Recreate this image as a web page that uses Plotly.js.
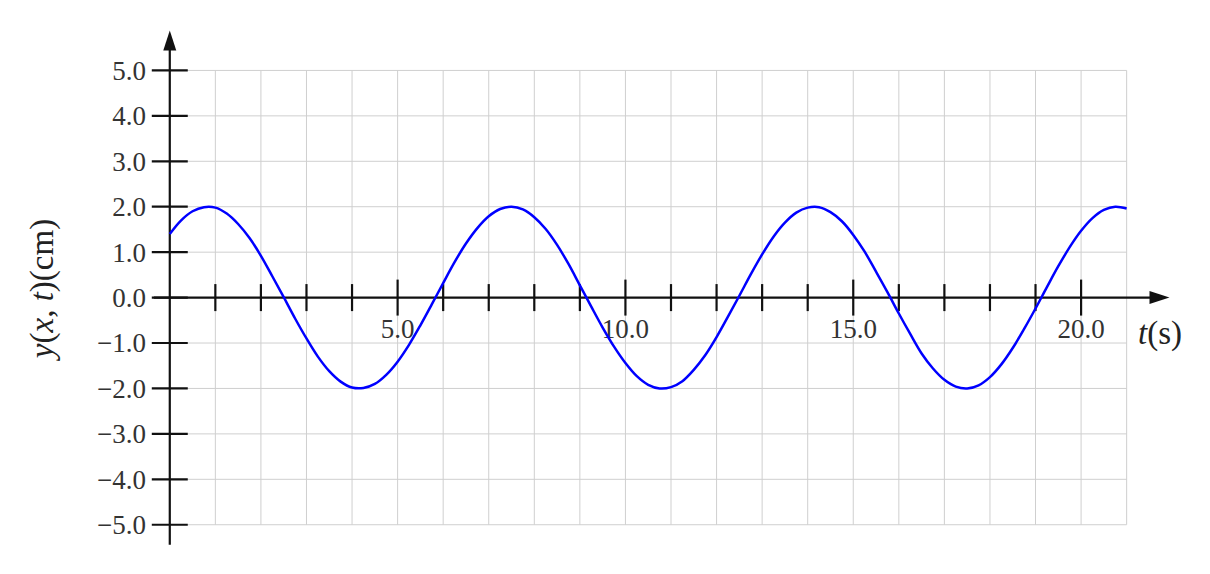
<!DOCTYPE html>
<html>
<head>
<meta charset="utf-8">
<script src="https://cdn.plot.ly/plotly-3.0.1.min.js"></script>
<style>
  html, body { margin: 0; padding: 0; background: #fff; }
  #chart { width: 1210px; height: 574px; }
</style>
</head>
<body>
<div id="chart"></div>
<script>
const tVals = [0, 0.25, 0.5, 0.75, 1, 1.25, 1.5, 1.75, 2, 2.25, 2.5, 2.75, 3, 3.25, 3.5, 3.75, 4, 4.25, 4.5, 4.75,
               5, 5.25, 5.5, 5.75, 6, 6.25, 6.5, 6.75, 7, 7.25, 7.5, 7.75, 8, 8.25, 8.5, 8.75, 9, 9.25, 9.5, 9.75,
               10, 10.25, 10.5, 10.75, 11, 11.25, 11.5, 11.75, 12, 12.25, 12.5, 12.75, 13, 13.25, 13.5, 13.75, 14, 14.25, 14.5, 14.75,
               15, 15.25, 15.5, 15.75, 16, 16.25, 16.5, 16.75, 17, 17.25, 17.5, 17.75, 18, 18.25, 18.5, 18.75, 19, 19.25, 19.5, 19.75,
               20, 20.25, 20.5, 20.75, 21];
const yVals = [1.40, 1.70, 1.90, 1.99, 1.98, 1.85, 1.62, 1.31, 0.92, 0.47, 0.01, -0.46, -0.90, -1.30, -1.62, -1.85, -1.98, -1.99, -1.90, -1.70,
               -1.41, -1.04, -0.61, -0.15, 0.32, 0.78, 1.19, 1.53, 1.79, 1.95, 2.00, 1.94, 1.77, 1.51, 1.16, 0.74, 0.27, -0.20, -0.66, -1.08,
               -1.44, -1.73, -1.92, -2.00, -1.97, -1.84, -1.59, -1.27, -0.87, -0.42, 0.04, 0.51, 0.95, 1.34, 1.65, 1.87, 1.98, 1.99, 1.88, 1.68,
               1.38, 1.01, 0.57, 0.12, -0.35, -0.80, -1.23, -1.56, -1.81, -1.96, -2.00, -1.93, -1.75, -1.47, -1.11, -0.69, -0.24, 0.23, 0.69, 1.11,
               1.47, 1.75, 1.93, 2.00, 1.96];

// Axes decoration
const gridX = [1, 2, 3, 4, 5, 6, 7, 8, 9, 10, 11, 12, 13, 14, 15, 16, 17, 18, 19, 20, 21];
const gridY = [-5, -4, -3, -2, -1, 0, 1, 2, 3, 4, 5];
const minorTicksX = [1, 2, 3, 4, 6, 7, 8, 9, 11, 12, 13, 14, 16, 17, 18, 19];
const majorTicksX = [5, 10, 15, 20];
const yTickVals = [-5, -4, -3, -2, -1, 0, 1, 2, 3, 4, 5];
const xLabelVals = [5, 10, 15, 20];

const fmt = v => (v < 0 ? '\u2212' : '') + Math.abs(v).toFixed(1);
const serif = 'Liberation Serif, Times New Roman, serif';
const ink = '#111';

// Grid lines + axis lines as shapes (under the traces)
const shapes = [];
gridX.forEach(gx => shapes.push({
    type: 'line', xref: 'x', yref: 'y', x0: gx, x1: gx, y0: -5, y1: 5,
    line: {color: '#cfcfcf', width: 1}, layer: 'below'
}));
gridY.forEach(gy => shapes.push({
    type: 'line', xref: 'x', yref: 'y', x0: 0, x1: 21, y0: gy, y1: gy,
    line: {color: '#cfcfcf', width: 1}, layer: 'below'
}));
shapes.push({type: 'line', xref: 'x', yref: 'y', x0: -0.35, x1: 21.7, y0: 0, y1: 0,
    line: {color: ink, width: 2.2}, layer: 'below'});
shapes.push({type: 'line', xref: 'x', yref: 'y', x0: 0, x1: 0, y0: -5.44, y1: 5.6,
    line: {color: ink, width: 2.2}, layer: 'below'});

const traceLabels = {
    x: xLabelVals, y: xLabelVals.map(() => -0.74), mode: 'text', type: 'scatter',
    text: xLabelVals.map(v => v.toFixed(1)), textposition: 'middle center',
    textfont: {family: serif, size: 27, color: '#333'}, hoverinfo: 'skip'
};
const traceMinor = {
    x: minorTicksX, y: minorTicksX.map(() => 0), mode: 'markers', type: 'scatter',
    marker: {symbol: 'line-ns-open', size: 19.3, color: ink, line: {color: ink, width: 2.2}}, hoverinfo: 'skip'
};
const traceMajor = {
    x: majorTicksX, y: majorTicksX.map(() => 0), mode: 'markers', type: 'scatter',
    marker: {symbol: 'line-ns-open', size: 25.7, color: ink, line: {color: ink, width: 2.2}}, hoverinfo: 'skip'
};
const traceYTicks = {
    x: yTickVals.map(() => 0), y: yTickVals, mode: 'markers', type: 'scatter',
    marker: {symbol: 'line-ew-open', size: 25.7, color: ink, line: {color: ink, width: 2.2}}, hoverinfo: 'skip'
};
const traceWave = {
    x: tVals, y: yVals, mode: 'lines', type: 'scatter',
    line: {color: '#0000ff', width: 2.5, shape: 'spline', smoothing: 1}
};
const traceArrows = {
    x: [21.94, 0], y: [0, 5.88], mode: 'markers', type: 'scatter',
    marker: {symbol: 'arrow', size: 21, angle: [90, 0], color: ink, line: {width: 0}}, hoverinfo: 'skip'
};

const layout = {
    width: 1210, height: 574,
    margin: {l: 146.5, r: 14.7, t: 24.5, b: 21.7},
    paper_bgcolor: '#fff', plot_bgcolor: '#fff',
    showlegend: false,
    xaxis: {range: [-0.5, 22.5], showgrid: false, zeroline: false, showline: false,
            showticklabels: false, ticks: '', fixedrange: true},
    yaxis: {range: [-5.6, 6.0], showgrid: false, zeroline: false, showline: false, ticks: '',
            tickvals: yTickVals, ticktext: yTickVals.map(fmt),
            tickfont: {family: serif, size: 27, color: '#333'},
            title: {text: '<i>y</i>(<i>x</i>, <i>t</i>)(cm)', font: {family: serif, size: 33, color: '#222'}, standoff: 33},
            fixedrange: true},
    shapes: shapes,
    annotations: [{
        x: 21.73, y: -0.79, xref: 'x', yref: 'y', showarrow: false,
        text: '<i>t</i>(s)', font: {family: serif, size: 33, color: '#222'}
    }]
};

Plotly.newPlot('chart', [traceLabels, traceMinor, traceMajor, traceYTicks, traceWave, traceArrows], layout, {displayModeBar: false});
</script>
</body>
</html>
